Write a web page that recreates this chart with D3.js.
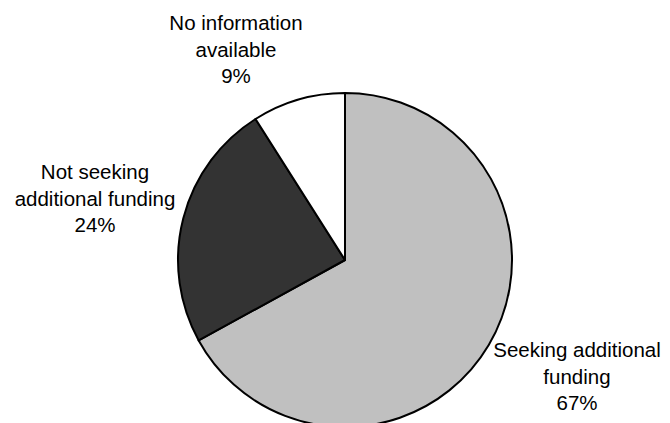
<!DOCTYPE html>
<html>
<head>
<meta charset="utf-8">
<script src="https://cdn.jsdelivr.net/npm/d3@7"></script>
<style>
  html, body { margin: 0; padding: 0; background: #fff; }
  svg { display: block; }
  text { font-family: Arial, "Liberation Sans", sans-serif; fill: #000; }
</style>
</head>
<body>
<svg id="chart" width="670" height="423"></svg>
<script>
// Funding status shares
const categories = ["Seeking additional funding", "Not seeking additional funding", "No information available"];
const shares = [67, 24, 9];
const labelLines = [
  ["Seeking additional", "funding"],
  ["Not seeking", "additional funding"],
  ["No information", "available"]
];
const sliceColors = ["#c0c0c0", "#333333", "#ffffff"];

// Layout
const width = 670, height = 423;
const cx = 345, cy = 260, radius = 167;
const fontSize = 20.5, lineStep = 26.5;
// label block centres (x, baseline of first line)
const labelAnchors = [[577, 357], [95, 179], [236, 30]];

const svg = d3.select("#chart");
const g = svg.append("g").attr("transform", `translate(${cx},${cy})`);

const pie = d3.pie().sort(null).value(d => d.value);
const arcs = pie(categories.map((c, i) => ({ name: c, value: shares[i], i })));
const arc = d3.arc().innerRadius(0).outerRadius(radius);

g.selectAll("path.slice")
  .data(arcs)
  .join("path")
  .attr("class", "slice")
  .attr("d", arc)
  .attr("fill", d => sliceColors[d.data.i])
  .attr("stroke", "#000")
  .attr("stroke-width", 2)
  .attr("stroke-linejoin", "round");

const labels = svg.selectAll("text.label")
  .data(arcs)
  .join("text")
  .attr("class", "label")
  .attr("text-anchor", "middle")
  .attr("font-size", fontSize);

labels.each(function(d) {
  const [x, y] = labelAnchors[d.data.i];
  const lines = labelLines[d.data.i].concat([d3.format(".0f")(d.data.value) + "%"]);
  d3.select(this).selectAll("tspan")
    .data(lines)
    .join("tspan")
    .attr("x", x)
    .attr("y", (l, k) => y + k * lineStep)
    .text(l => l);
});
</script>
</body>
</html>
